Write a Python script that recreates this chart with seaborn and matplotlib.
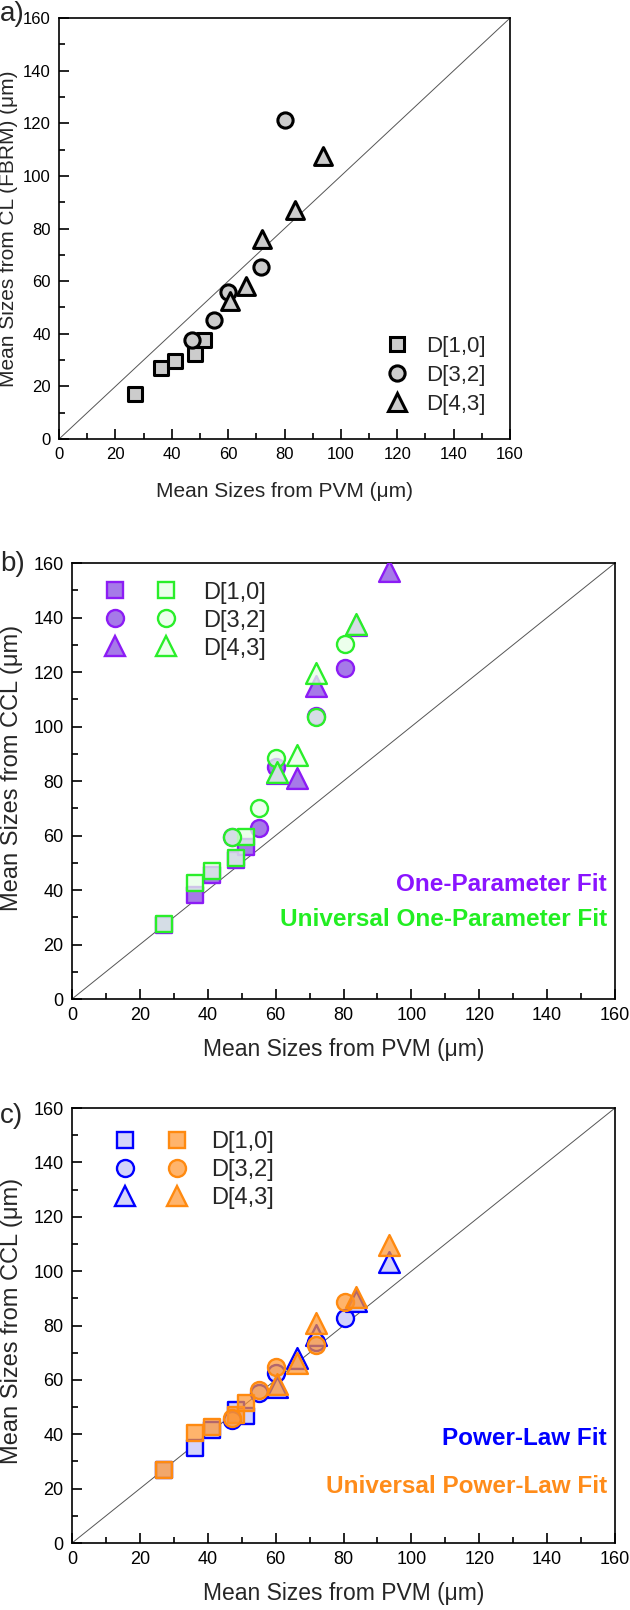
import matplotlib
matplotlib.use('Agg')
import matplotlib.pyplot as plt
import seaborn as sns
import numpy as np
from matplotlib.lines import Line2D
from matplotlib.legend_handler import HandlerTuple

sns.set_theme(style='white')
plt.rcParams['font.family'] = ['Liberation Sans', 'DejaVu Sans']
plt.rcParams.update({'axes.edgecolor': 'black', 'axes.linewidth': 1.2,
                     'xtick.direction': 'in', 'ytick.direction': 'in',
                     'xtick.color': 'black', 'ytick.color': 'black'})

# mean sizes from PVM (x values shared by all panels)
pvm_d10 = [27.0, 36.3, 41.3, 48.2, 51.4]
pvm_d32 = [47.0, 55.0, 60.0, 71.8, 80.3]
pvm_d43 = [60.5, 66.4, 72.0, 83.6, 93.5]

# a) CL (FBRM)
cl_d10 = [17.0, 27.0, 29.8, 32.2, 37.8]
cl_d32 = [37.8, 45.1, 56.0, 65.3, 121.3]
cl_d43 = [52.3, 58.0, 76.2, 86.9, 107.5]

# b) CCL, one-parameter fit / universal one-parameter fit
op_d10 = [27.0, 38.0, 45.5, 51.0, 55.9]
op_d32 = [59.6, 62.8, 85.2, 104.0, 121.3]
op_d43 = [83.0, 81.0, 115.0, 137.3, 157.0]
uop_d10 = [27.5, 42.6, 47.1, 51.6, 59.6]
uop_d32 = [59.6, 70.0, 88.3, 103.4, 130.2]
uop_d43 = [83.4, 89.5, 119.5, 137.5, np.nan]

# c) CCL, power-law fit / universal power-law fit
pl_d10 = [27.0, 34.8, 41.6, 48.9, 46.6]
pl_d32 = [45.3, 55.0, 62.4, 74.0, 82.6]
pl_d43 = [57.5, 67.9, 76.5, 89.0, 103.5]
upl_d10 = [27.0, 40.3, 42.8, 47.0, 51.6]
upl_d32 = [45.9, 56.3, 64.6, 72.8, 88.7]
upl_d43 = [58.6, 66.3, 80.8, 90.5, 109.6]

size_labels = ['D[1,0]', 'D[3,2]', 'D[4,3]']
markers = ['s', 'o', '^']
ticks = np.arange(0, 161, 20)
axis_max = 160

fig = plt.figure(figsize=(6.3, 16.1), dpi=100)
ax_a = fig.add_axes([0.0937, 0.7273, 0.7159, 0.2615])
ax_b = fig.add_axes([0.1143, 0.3795, 0.8619, 0.2708])
ax_c = fig.add_axes([0.1143, 0.0416, 0.8619, 0.2702])


def style_axis(ax, ylabel, fs_tick, fs_x, fs_y, xpad):
    ax.set_xlim(0, axis_max)
    ax.set_ylim(0, axis_max)
    ax.axline((0, 0), slope=1, color='#555555', linewidth=0.7, zorder=1)
    ax.set_xticks(ticks)
    ax.set_yticks(ticks)
    ax.set_xticks(np.arange(10, 160, 20), minor=True)
    ax.set_yticks(np.arange(10, 160, 20), minor=True)
    ax.tick_params(which='major', length=7, width=1.2, labelsize=fs_tick, pad=6)
    ax.tick_params(which='minor', length=4, width=1.2)
    ax.tick_params(bottom=True, left=True, which='both')
    ax.set_xlabel('Mean Sizes from PVM (\u03bcm)', fontsize=fs_x, labelpad=xpad)
    ax.set_ylabel(ylabel, fontsize=fs_y)
    ax.grid(False)


def scat(ax, x, y, m, fc, ec, size, lw, z):
    sns.scatterplot(x=x, y=y, marker=m, s=size, color=fc, edgecolor=ec,
                    linewidth=lw, ax=ax, zorder=z, legend=False)


# --- a) ---
gray = '#cccccc'
sizes_a = [105, 120, 165]
for x, y, m, s in zip([pvm_d10, pvm_d32, pvm_d43], [cl_d10, cl_d32, cl_d43], markers, sizes_a):
    scat(ax_a, x, y, m, gray, 'black', s, 2.2, 3)
style_axis(ax_a, 'Mean Sizes from CL (FBRM) (\u03bcm)', 12, 15, 15, 14)
ax_a.yaxis.set_label_coords(-0.09, 0.5)
h_a = [Line2D([], [], ls='none', marker=m, ms=np.sqrt(s), mfc=gray, mec='black', mew=2.2)
       for m, s in zip(markers, sizes_a)]
ax_a.legend(h_a, size_labels, loc='lower right', bbox_to_anchor=(1.0, 0.0),
            frameon=False, fontsize=16, handlelength=1.2, handletextpad=0.7,
            labelspacing=0.35, borderpad=0.5, borderaxespad=0.6)

# --- b) ---
purple_e, purple_f = '#8c1cf5', '#a67ae8'
green_e, green_f = '#2aee2a', (0.9, 1.0, 0.9, 0.75)
sizes_bc = [140, 150, 225]
for x, y, m, s in zip([pvm_d10, pvm_d32, pvm_d43], [op_d10, op_d32, op_d43], markers, sizes_bc):
    scat(ax_b, x, y, m, purple_f, purple_e, s, 1.7, 3)
for x, y, m, s in zip([pvm_d10, pvm_d32, pvm_d43], [uop_d10, uop_d32, uop_d43], markers, sizes_bc):
    scat(ax_b, x, y, m, green_f, green_e, s, 1.7, 4)
style_axis(ax_b, 'Mean Sizes from CCL (\u03bcm)', 13, 16.5, 17, 10)
ax_b.yaxis.set_label_coords(-0.09, 0.53)
h_b = [(Line2D([], [], ls='none', marker=m, ms=np.sqrt(s), mfc=purple_f, mec=purple_e, mew=1.7),
        Line2D([], [], ls='none', marker=m, ms=np.sqrt(s), mfc=green_f, mec=green_e, mew=1.7))
       for m, s in zip(markers, sizes_bc)]
ax_b.legend(h_b, size_labels, loc='upper left', bbox_to_anchor=(0.0, 0.995),
            handler_map={tuple: HandlerTuple(ndivide=None, pad=0)},
            frameon=False, fontsize=17, handlelength=4.4, handletextpad=0.45,
            labelspacing=0.25, borderpad=0.2)
ax_b.text(0.985, 0.262, 'One-Parameter Fit', transform=ax_b.transAxes, ha='right', va='center',
          color='#8a14ff', fontsize=17.5, fontweight='bold')
ax_b.text(0.985, 0.182, 'Universal One-Parameter Fit', transform=ax_b.transAxes, ha='right',
          va='center', color='#22ee22', fontsize=17.5, fontweight='bold')

# --- c) ---
blue_e, blue_f = '#0000ff', '#d4d4fa'
orange_e, orange_f = '#ff8a10', (1.0, 0.58, 0.18, 0.7)
for x, y, m, s in zip([pvm_d10, pvm_d32, pvm_d43], [pl_d10, pl_d32, pl_d43], markers, sizes_bc):
    scat(ax_c, x, y, m, blue_f, blue_e, s, 1.7, 3)
for x, y, m, s in zip([pvm_d10, pvm_d32, pvm_d43], [upl_d10, upl_d32, upl_d43], markers, sizes_bc):
    scat(ax_c, x, y, m, orange_f, orange_e, s, 1.7, 4)
style_axis(ax_c, 'Mean Sizes from CCL (\u03bcm)', 13, 16.5, 17, 10)
ax_c.yaxis.set_label_coords(-0.09, 0.51)
h_c = [(Line2D([], [], ls='none', marker=m, ms=np.sqrt(s), mfc=blue_f, mec=blue_e, mew=1.7),
        Line2D([], [], ls='none', marker=m, ms=np.sqrt(s), mfc=orange_f, mec=orange_e, mew=1.7))
       for m, s in zip(markers, sizes_bc)]
ax_c.legend(h_c, size_labels, loc='upper left', bbox_to_anchor=(0.02, 0.985),
            handler_map={tuple: HandlerTuple(ndivide=None, pad=0)},
            frameon=False, fontsize=17, handlelength=4.4, handletextpad=0.35,
            labelspacing=0.25, borderpad=0.2)
ax_c.text(0.985, 0.24, 'Power-Law Fit', transform=ax_c.transAxes, ha='right', va='center',
          color='#0000ff', fontsize=17.5, fontweight='bold')
ax_c.text(0.985, 0.13, 'Universal Power-Law Fit', transform=ax_c.transAxes, ha='right',
          va='center', color='#ff8c1a', fontsize=17.5, fontweight='bold')

# panel letters
fig.text(0.0, 0.9995, 'a)', fontsize=20, va='top', ha='left')
fig.text(0.0, 0.658, 'b)', fontsize=20, va='top', ha='left')
fig.text(0.0, 0.315, 'c)', fontsize=20, va='top', ha='left')

plt.savefig('out.png', dpi=100, facecolor='white')
plt.close()
